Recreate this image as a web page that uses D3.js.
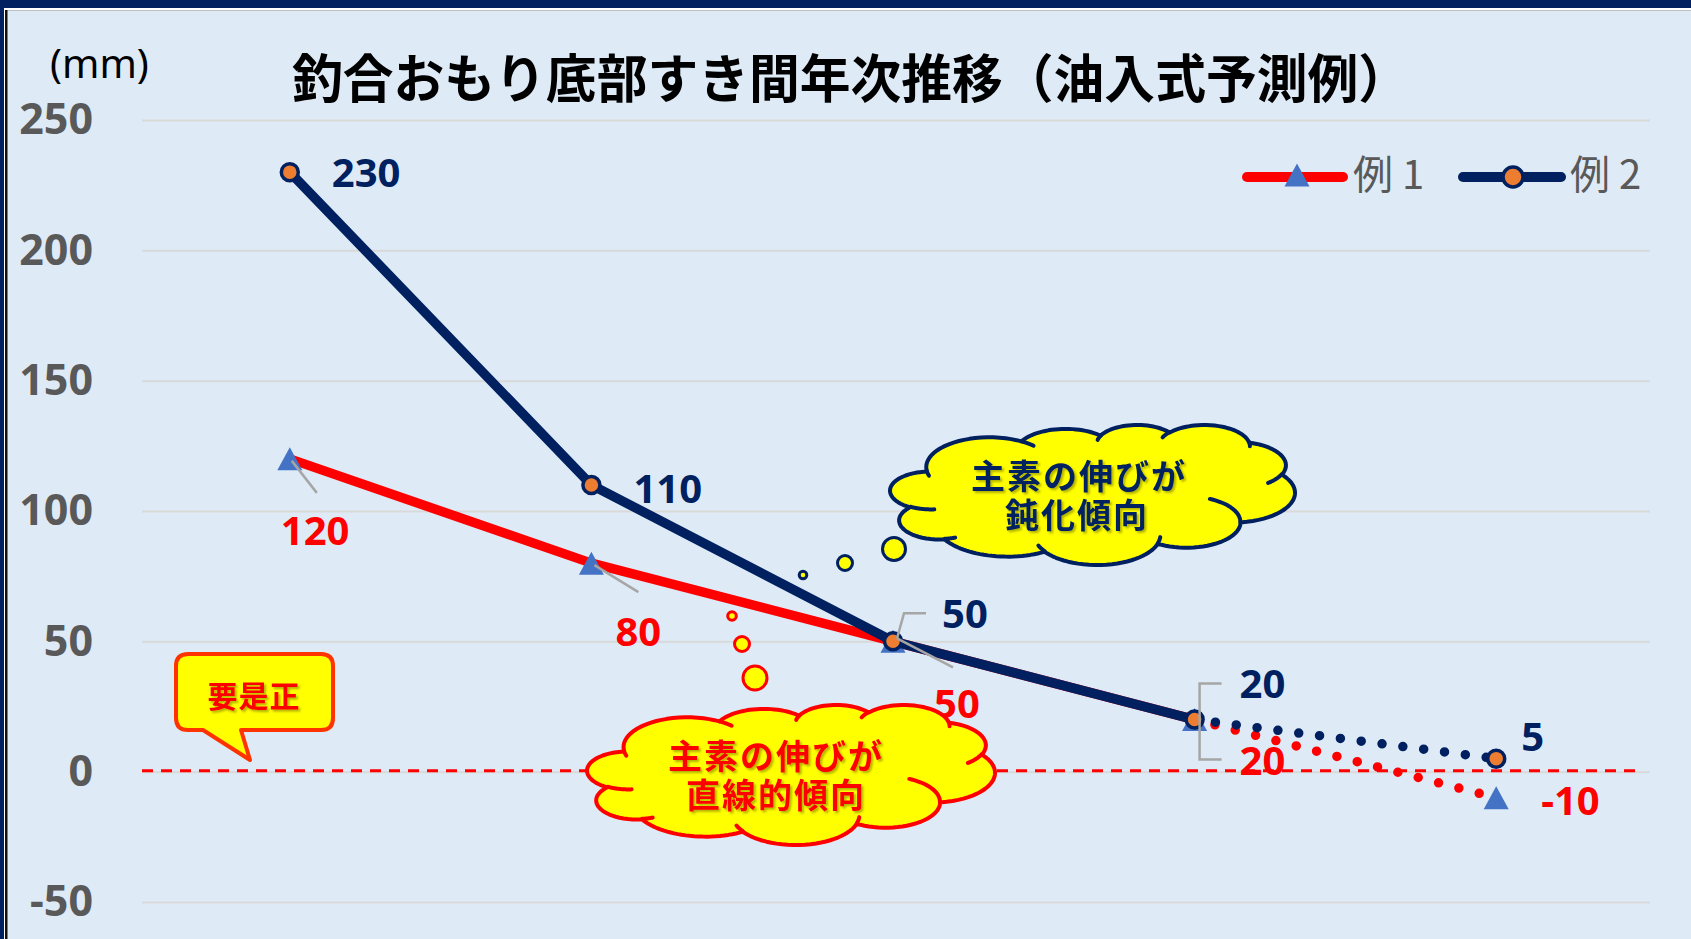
<!DOCTYPE html>
<html>
<head>
<meta charset="utf-8">
<script src="https://cdn.jsdelivr.net/npm/d3@7"></script>
<style>
  html, body { margin: 0; padding: 0; background: #fff; overflow: hidden; }
</style>
</head>
<body>
<div id="chart"></div>
<script>
// data
const categories = ["第1回", "第2回", "第3回", "第4回", "第5回"];
const seriesNames = ["例 1", "例 2"];
const rei1 = [120, 80, 50, 20, -10];
const rei2 = [230, 110, 50, 20, 5];
const yTicks = [250, 200, 150, 100, 50, 0, -50];
const predictFrom = 3; // last segment is the forecast (dotted)

const W = 1691, H = 939;
const C = { bg: "#DEEBF7", navy: "#002060", red: "#FF0000", tri: "#4472C4", dot: "#ED7D31", grid: "#D9D9D9", lead: "#A6A6A6", axis: "#595959" };

const svg = d3.select("#chart").append("svg")
  .attr("width", W).attr("height", H)
  .style("font-family", "'Noto Sans', 'Noto Sans CJK JP', sans-serif");

// soft text shadow for the callouts
svg.append("defs").append("filter").attr("id", "shadow")
  .attr("x", "-10%").attr("y", "-20%").attr("width", "130%").attr("height", "150%")
  .append("feDropShadow").attr("dx", 2).attr("dy", 2).attr("stdDeviation", 0.8)
  .attr("flood-color", "#000").attr("flood-opacity", 0.3);

// frame
svg.append("rect").attr("width", W).attr("height", H).attr("fill", C.bg);
svg.append("rect").attr("width", W).attr("height", 8).attr("fill", C.navy);
svg.append("rect").attr("y", 8).attr("width", W).attr("height", 2).attr("fill", "#fff");
svg.append("rect").attr("y", 10).attr("width", W).attr("height", 1).attr("fill", "#BFBFBF");
svg.append("rect").attr("width", 4).attr("height", H).attr("fill", C.navy);
svg.append("rect").attr("x", 4).attr("y", 8).attr("width", 1).attr("height", H).attr("fill", "#fff");
svg.append("rect").attr("x", 5).attr("y", 10).attr("width", 2.5).attr("height", H).attr("fill", "#111");

const x = d3.scalePoint().domain(categories).range([139, 1647]).padding(0.5);
const y = d3.scaleLinear().domain([-50, 250]).range([902, 120]);

// gridlines
const grid = svg.append("g").attr("transform", "translate(142,0)")
  .call(d3.axisLeft(y).tickValues(yTicks).tickSize(-(1650 - 142)).tickFormat(""));
grid.select(".domain").remove();
grid.selectAll("line").attr("stroke", C.grid).attr("stroke-width", 2);

// y axis labels
const ax = svg.append("g").attr("transform", "translate(93,0)")
  .call(d3.axisLeft(y).tickValues(yTicks).tickSize(0).tickPadding(0).tickFormat(d => String(d)));
ax.select(".domain").remove();
ax.selectAll("text")
  .attr("fill", C.axis).style("font-size", "43px").style("font-weight", 700)
  .style("font-family", "'Noto Sans', sans-serif");

// unit and title
svg.append("text").attr("x", 50).attr("y", 78).text("(mm)")
  .style("font-size", "40px").attr("fill", "#000");
svg.append("text").attr("x", 292).attr("y", 75)
  .attr("dominant-baseline", "central")
  .attr("textLength", 1117).attr("lengthAdjust", "spacingAndGlyphs")
  .style("font-family", "'Noto Sans CJK JP', sans-serif")
  .style("font-size", "52px").style("font-weight", 700).attr("fill", "#000")
  .text("釣合おもり底部すき間年次推移（油入式予測例）");

// zero reference line
svg.append("line")
  .attr("x1", 142).attr("x2", 1642).attr("y1", y(0) - 1).attr("y2", y(0) - 1)
  .attr("stroke", C.red).attr("stroke-width", 3).attr("stroke-dasharray", "11 8");

// series
const pts = vals => vals.map((v, i) => ({ c: categories[i], v, i }));
const line = d3.line().x(d => x(d.c)).y(d => y(d.v));
const triPath = "M0,-11.5L12.5,11.5L-12.5,11.5Z";

function drawSeries(vals, color, marker) {
  const p = pts(vals);
  svg.append("path").attr("d", line(p.slice(0, predictFrom + 1)))
    .attr("fill", "none").attr("stroke", color).attr("stroke-width", 9.5)
    .attr("stroke-linejoin", "round");
  svg.append("path").attr("d", line(p.slice(predictFrom)))
    .attr("fill", "none").attr("stroke", color).attr("stroke-width", 9.5)
    .attr("stroke-linecap", "round").attr("stroke-dasharray", "0 21")
    .attr("stroke-dashoffset", -21);
  const g = svg.append("g");
  if (marker === "tri") {
    g.selectAll("path").data(p).join("path")
      .attr("transform", d => `translate(${x(d.c)},${y(d.v)})`)
      .attr("d", triPath).attr("fill", C.tri);
  } else {
    g.selectAll("circle").data(p).join("circle")
      .attr("cx", d => x(d.c)).attr("cy", d => y(d.v)).attr("r", 8.5)
      .attr("fill", C.dot).attr("stroke", C.navy).attr("stroke-width", 3.5);
  }
  return p;
}
const p1 = drawSeries(rei1, C.red, "tri");
const p2 = drawSeries(rei2, C.navy, "circle");

// leader lines (relative to the point)
const leaders1 = [
  [[2, 2], [27, 34]],
  [[3, 2], [47, 29]],
  [[4, -3], [60, 26]],
  null, null
];
const leaders2 = [
  null, null,
  [[4, -3], [11, -28], [33, -28]],
  [[27, -36], [5, -36], [5, 40], [27, 40]],
  null
];
function drawLeaders(p, list) {
  p.forEach((d, i) => {
    if (!list[i]) return;
    const px = x(d.c), py = y(d.v);
    svg.append("path")
      .attr("d", d3.line()(list[i].map(q => [px + q[0], py + q[1]])))
      .attr("fill", "none").attr("stroke", C.lead).attr("stroke-width", 2.5);
  });
}
drawLeaders(p1, leaders1);
drawLeaders(p2, leaders2);

// data labels
const off1 = [[-9, 86], [24, 83], [41, 77], [45, 55], [45, 17]];
const off2 = [[42, 15], [42, 18], [49, -13], [45, -22], [25, -8]];
function drawLabels(p, off, color) {
  svg.append("g").selectAll("text").data(p).join("text")
    .attr("x", (d, i) => x(d.c) + off[i][0])
    .attr("y", (d, i) => y(d.v) + off[i][1])
    .attr("fill", color).style("font-size", "40px").style("font-weight", 700)
    .text(d => String(d.v));
}
drawLabels(p1, off1, C.red);
drawLabels(p2, off2, C.navy);

// legend
const lg = svg.append("g");
lg.append("line").attr("x1", 1247).attr("x2", 1343).attr("y1", 177).attr("y2", 177)
  .attr("stroke", C.red).attr("stroke-width", 10).attr("stroke-linecap", "round");
lg.append("path").attr("transform", "translate(1297,175)").attr("d", triPath).attr("fill", C.tri);
lg.append("line").attr("x1", 1463).attr("x2", 1561).attr("y1", 177).attr("y2", 177)
  .attr("stroke", C.navy).attr("stroke-width", 10).attr("stroke-linecap", "round");
lg.append("circle").attr("cx", 1513).attr("cy", 177).attr("r", 10)
  .attr("fill", C.dot).attr("stroke", C.navy).attr("stroke-width", 3.5);
lg.selectAll("text").data(seriesNames).join("text")
  .attr("x", (d, i) => [1353, 1570][i]).attr("y", 189)
  .style("font-family", "'Noto Sans CJK JP', sans-serif")
  .style("font-size", "40px").attr("fill", C.axis).text(d => d);

// cloud callouts (Office cloud shape)
const cloudStart = [3900, 14370];
const cloudArcs = [
  [6753, 9190, -11429249, 7426832], [5333, 7267, -8646143, 5396714],
  [4365, 5945, -8748475, 5983381], [4857, 6595, -7859164, 7034504],
  [5333, 7273, -4722533, 6541615], [6775, 9220, -2776035, 7816140],
  [5785, 7867, 37501, 6842000], [6752, 9215, 1347096, 6910353],
  [7720, 10543, 3974558, 4542661], [4360, 5918, -16496525, 8804134],
  [4345, 5945, -14809710, 9151131]
];
const cloudInner = [
  [[4693, 26177], [4345, 5945, 5204520, 1585770]],
  [[6928, 34899], [4360, 5918, 4416628, 686848]],
  [[16478, 39090], [6752, 9215, 8257449, 844866]],
  [[28827, 34751], [6752, 9215, 387196, 959901]],
  [[34129, 22954], [5785, 7867, -4217541, 4255042]],
  [[41798, 15354], [5333, 7273, 1819082, 1665090]],
  [[38324, 5426], [4857, 6595, -824660, 891534]],
  [[29078, 3952], [4857, 6595, -8950887, 1091722]],
  [[22141, 4720], [4365, 5945, -9809656, 1061181]],
  [[14000, 5192], [6753, 9190, -4002417, 739161]],
  [[4127, 15789], [6753, 9190, 9459261, 711490]]
];
function arcPts(start, arcs) {
  let p = start.slice();
  const out = [p];
  arcs.forEach(([wr, hr, st, sw]) => {
    const a0 = st / 60000 * Math.PI / 180, da = sw / 60000 * Math.PI / 180;
    const on = t => {
      const c = Math.cos(t), s = Math.sin(t);
      const r = wr * hr / Math.hypot(hr * c, wr * s);
      return [r * c, r * s];
    };
    const q0 = on(a0), cx = p[0] - q0[0], cy = p[1] - q0[1];
    for (let i = 1; i <= 30; i++) {
      const q = on(a0 + da * i / 30);
      p = [cx + q[0], cy + q[1]];
      out.push(p);
    }
  });
  return out;
}
const outerPts = arcPts(cloudStart, cloudArcs);
const innerPts = cloudInner.map(d => arcPts(d[0], [d[1]]));
const ox = d3.extent(outerPts, d => d[0]), oy = d3.extent(outerPts, d => d[1]);

function cloud(box, color, lines, bubbles) {
  const sx = d3.scaleLinear().domain(ox).range([box[0], box[2]]);
  const sy = d3.scaleLinear().domain(oy).range([box[1], box[3]]);
  const ln = d3.line().x(d => sx(d[0])).y(d => sy(d[1]));
  const g = svg.append("g");
  bubbles.forEach(b => g.append("circle").attr("cx", b[0]).attr("cy", b[1]).attr("r", b[2])
    .attr("fill", "#FFFF00").attr("stroke", color).attr("stroke-width", 3));
  g.append("path").attr("d", ln(outerPts) + "Z")
    .attr("fill", "#FFFF00").attr("stroke", color).attr("stroke-width", 4)
    .attr("stroke-linejoin", "round");
  innerPts.forEach(pp => g.append("path").attr("d", ln(pp))
    .attr("fill", "none").attr("stroke", color).attr("stroke-width", 4).attr("stroke-linecap", "round"));
  lines.forEach(t => {
    g.append("text").attr("x", t[0]).attr("y", t[1])
      .attr("text-anchor", "middle").attr("dominant-baseline", "central")
      .attr("filter", "url(#shadow)")
      .style("font-family", "'Noto Sans CJK JP', sans-serif")
      .style("font-size", "34px").style("font-weight", 700).style("letter-spacing", "2px")
      .attr("fill", color).text(t[2]);
  });
}
cloud([587, 705, 995, 845], C.red,
  [[776, 754, "主素の伸びが"], [776, 793, "直線的傾向"]],
  [[732, 616, 4.3], [742, 644, 7.5], [755, 678, 12]]);
cloud([890, 425, 1295, 565], C.navy,
  [[1079, 474, "主素の伸びが"], [1077, 513, "鈍化傾向"]],
  [[803, 575, 3.8], [845, 563, 7.5], [894, 549, 11.5]]);

// speech bubble
const sb = svg.append("g");
sb.append("path")
  .attr("d", "M188,654 H321 Q333,654 333,666 V718 Q333,730 321,730 H241 L250,760 L203,730 H188 Q176,730 176,718 V666 Q176,654 188,654 Z")
  .attr("fill", "#FFFF00").attr("stroke", "#FF3300").attr("stroke-width", 4).attr("stroke-linejoin", "round");
sb.append("text").attr("x", 254).attr("y", 694)
  .attr("text-anchor", "middle").attr("dominant-baseline", "central")
  .attr("filter", "url(#shadow)")
  .style("font-family", "'Noto Sans CJK JP', sans-serif")
  .style("font-size", "30px").style("font-weight", 700).style("letter-spacing", "1px")
  .attr("fill", C.red).text("要是正");
</script>
</body>
</html>
